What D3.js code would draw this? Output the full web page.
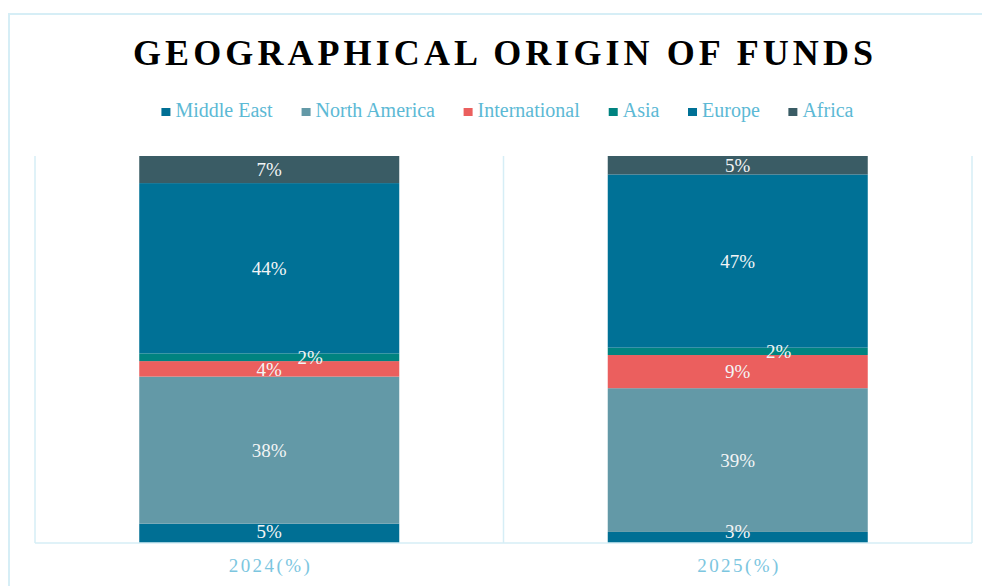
<!DOCTYPE html>
<html>
<head>
<meta charset="utf-8">
<script src="https://cdn.jsdelivr.net/npm/d3@7"></script>
<style>
  html, body { margin: 0; padding: 0; background: #ffffff; }
  svg { display: block; }
</style>
</head>
<body>
<svg id="chart" width="982" height="586"></svg>
<script>
// ---- data ----
const categories = ["2024(%)", "2025(%)"];
const seriesNames = ["Middle East", "North America", "International", "Asia", "Europe", "Africa"];
const middleEast   = [5, 3];
const northAmerica = [38, 39];
const international = [4, 9];
const asia         = [2, 2];
const europe       = [44, 47];
const africa       = [7, 5];
const titleText = "GEOGRAPHICAL ORIGIN OF FUNDS";

// ---- styles ----
const colors = ["#006f94", "#6399a7", "#eb5f5e", "#008380", "#007196", "#3a5c65"];
const frameColor = "#d6eef6";
const legendText = "#5cb9d5";
const axisText = "#7cc6df";
const serif = "'Liberation Serif', 'DejaVu Serif', serif";

const seriesValues = [middleEast, northAmerica, international, asia, europe, africa];
const rows = categories.map((c, i) => {
  const r = { cat: c };
  seriesNames.forEach((s, k) => r[s] = seriesValues[k][i]);
  return r;
});

const svg = d3.select("#chart");

// outer frame
svg.append("path")
  .attr("d", "M9,586 L9,14 L982,14")
  .attr("fill", "none").attr("stroke", frameColor).attr("stroke-width", 2);

// plot area
const plot = { left: 35, right: 972, top: 156, bottom: 543 };

const x = d3.scaleBand().domain(categories)
  .range([plot.left, plot.right])
  .paddingInner(0.445).paddingOuter(0.2225);
const y = d3.scaleLinear().domain([0, 1]).range([plot.bottom, plot.top]);

const stack = d3.stack().keys(seriesNames).offset(d3.stackOffsetExpand);
const stacked = stack(rows);

// plot frame lines (left, right, category divider)
const dividers = d3.range(categories.length + 1).map(i => plot.left + i * (plot.right - plot.left) / categories.length);
svg.append("g").selectAll("line").data(dividers).join("line")
  .attr("x1", d => d).attr("x2", d => d)
  .attr("y1", plot.top).attr("y2", plot.bottom)
  .attr("stroke", frameColor).attr("stroke-width", 1.5);

// bars
const gBars = svg.append("g");
stacked.forEach((layer, k) => {
  gBars.append("g").attr("fill", colors[k])
    .selectAll("rect").data(layer).join("rect")
    .attr("x", d => x(d.data.cat))
    .attr("width", x.bandwidth())
    .attr("y", d => y(d[1]))
    .attr("height", d => y(d[0]) - y(d[1]));
});

// bottom axis line
svg.append("line")
  .attr("x1", plot.left).attr("x2", plot.right)
  .attr("y1", plot.bottom).attr("y2", plot.bottom)
  .attr("stroke", frameColor).attr("stroke-width", 1.5);

// data labels
const labelDx = { "Asia": 41 };
const gLabels = svg.append("g")
  .attr("font-family", serif).attr("font-size", 19)
  .attr("fill", "#f3f5f6").attr("text-anchor", "middle");
stacked.forEach((layer, k) => {
  const name = seriesNames[k];
  gLabels.selectAll(null).data(layer).join("text")
    .attr("x", d => x(d.data.cat) + x.bandwidth() / 2 + (labelDx[name] || 0))
    .attr("y", d => Math.min((y(d[0]) + y(d[1])) / 2, plot.bottom - 12))
    .attr("dy", "0.35em")
    .text(d => d.data[name] + "%");
});

// category axis labels
const xAxis = d3.axisBottom(x).tickSize(0).tickPadding(0);
const gx = svg.append("g").attr("transform", `translate(0,${plot.bottom})`).call(xAxis);
gx.select(".domain").remove();
gx.selectAll("text")
  .attr("y", 29)
  .attr("dy", 0)
  .attr("font-family", serif)
  .attr("font-size", 19)
  .attr("fill", axisText)
  .attr("textLength", 81)
  .attr("lengthAdjust", "spacing");

// title
svg.append("text")
  .attr("x", 503).attr("y", 65)
  .attr("text-anchor", "middle")
  .attr("font-family", serif)
  .attr("font-weight", "bold")
  .attr("font-size", 36)
  .attr("fill", "#000")
  .attr("textLength", 740)
  .attr("lengthAdjust", "spacing")
  .text(titleText);

// legend
const legend = svg.append("g");
const items = legend.selectAll("g").data(seriesNames).join("g");
items.append("rect").attr("width", 9).attr("height", 8)
  .attr("y", 108).attr("fill", (d, i) => colors[i]);
items.append("text")
  .attr("x", 14).attr("y", 117)
  .attr("font-family", serif).attr("font-size", 20)
  .attr("fill", legendText)
  .text(d => d);
let cx = 0;
const gap = 28.5;
items.each(function () {
  const w = this.getBBox().width;
  d3.select(this).attr("transform", `translate(${cx},0)`);
  cx += w + gap;
});
const totalW = cx - gap;
legend.attr("transform", `translate(${507.5 - totalW / 2},0)`);
</script>
</body>
</html>
